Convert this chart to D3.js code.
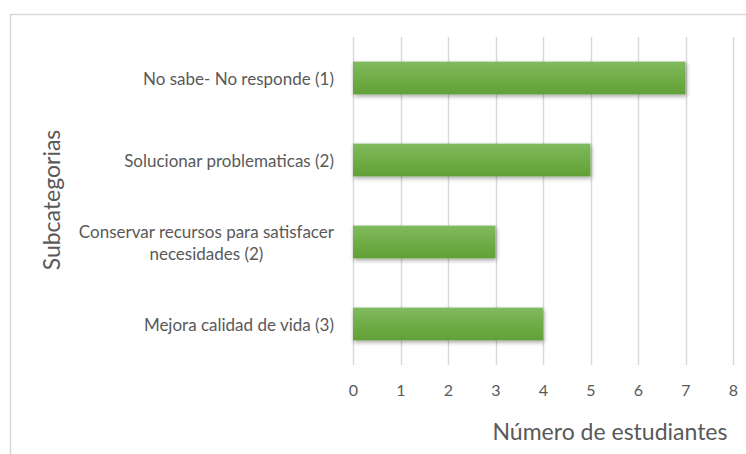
<!DOCTYPE html>
<html>
<head>
<meta charset="utf-8">
<script src="https://cdn.jsdelivr.net/npm/d3@7"></script>
<style>
  body { margin: 0; background: #fff; }
  text { font-family: Lato, "Open Sans", sans-serif; fill: #595959; }
</style>
</head>
<body>
<div id="chart"></div>
<script>
// data
const categories = [
    "No sabe- No responde (1)",
    "Solucionar problematicas (2)",
    "Conservar recursos para satisfacer|necesidades (2)",
    "Mejora calidad de vida (3)"
];
const values = [7, 5, 3, 4];
const xTicks = [0, 1, 2, 3, 4, 5, 6, 7, 8];

const width = 746, height = 454;
const margin = {left: 353, right: 13, top: 37, bottom: 89};

const svg = d3.select("#chart")
    .append("svg")
    .attr("width", width)
    .attr("height", height);

// gradient + shadow for bars
const defs = svg.append("defs");
const grad = defs.append("linearGradient")
    .attr("id", "barGrad")
    .attr("x1", 0).attr("y1", 0).attr("x2", 0).attr("y2", 1);
grad.append("stop").attr("offset", "0%").attr("stop-color", "#81ba60");
grad.append("stop").attr("offset", "50%").attr("stop-color", "#70ad47");
grad.append("stop").attr("offset", "100%").attr("stop-color", "#62a037");

const shadow = defs.append("filter")
    .attr("id", "shadow")
    .attr("x", "-10%").attr("y", "-20%").attr("width", "130%").attr("height", "160%");
shadow.append("feDropShadow")
    .attr("dx", 1).attr("dy", 2).attr("stdDeviation", 2)
    .attr("flood-color", "#000").attr("flood-opacity", 0.35);

// outer frame
svg.append("rect")
    .attr("x", 10.5).attr("y", 14.5)
    .attr("width", 760).attr("height", 460)
    .attr("fill", "none")
    .attr("stroke", "#d9d9d9")
    .attr("stroke-width", 1.5);

const x = d3.scaleLinear()
    .domain([0, 8])
    .range([margin.left, width - margin.right]);

const y = d3.scaleBand()
    .domain(categories)
    .range([margin.top, height - margin.bottom])
    .paddingInner(0.6)
    .paddingOuter(0.3);

// gridlines + ticks
svg.append("g")
    .selectAll("line")
    .data(xTicks)
    .enter()
    .append("line")
    .attr("x1", d => Math.round(x(d)) + 0.5)
    .attr("x2", d => Math.round(x(d)) + 0.5)
    .attr("y1", margin.top)
    .attr("y2", height - margin.bottom)
    .attr("stroke", "#d9d9d9")
    .attr("stroke-width", 1.5);

// x axis labels
const xAxis = svg.append("g")
    .attr("transform", `translate(0,${height - margin.bottom})`)
    .call(d3.axisBottom(x).tickValues(xTicks).tickSize(0).tickPadding(20));
xAxis.select(".domain").remove();
xAxis.selectAll("text")
    .style("font-size", "16px")
    .style("font-family", "Lato, 'Open Sans', sans-serif")
    .attr("fill", "#595959");

// bars
svg.append("g")
    .selectAll("rect")
    .data(values)
    .enter()
    .append("rect")
    .attr("x", x(0))
    .attr("y", (d, i) => y(categories[i]))
    .attr("width", d => x(d) - x(0))
    .attr("height", y.bandwidth())
    .attr("fill", "url(#barGrad)")
    .attr("filter", "url(#shadow)");

// category labels (wrapped on "|", centered per line like Excel)
const labels = svg.append("g")
    .selectAll("text")
    .data(categories)
    .enter()
    .append("text")
    .attr("font-size", "17px")
    .attr("text-anchor", "end")
    .attr("dominant-baseline", "central")
    .attr("y", d => y(d) + y.bandwidth() / 2);

labels.each(function(d) {
    const lines = d.split("|");
    const t = d3.select(this);
    if (lines.length === 1) {
        t.attr("x", 334).text(d);
    } else {
        t.attr("text-anchor", "middle");
        const tmp = t.append("tspan").text(lines[0]);
        const w = tmp.node().getComputedTextLength();
        tmp.remove();
        const cx = 334 - w / 2;
        lines.forEach((line, k) => {
            t.append("tspan")
                .attr("x", cx)
                .attr("y", y(d) + y.bandwidth() / 2 + (k - (lines.length - 1) / 2) * 22)
                .text(line);
        });
    }
});

// axis titles
svg.append("text")
    .attr("x", 610)
    .attr("y", 431)
    .attr("text-anchor", "middle")
    .attr("dominant-baseline", "central")
    .attr("font-size", "23px")
    .text("Número de estudiantes");

svg.append("text")
    .attr("transform", `translate(51,200) rotate(-90)`)
    .attr("text-anchor", "middle")
    .attr("dominant-baseline", "central")
    .attr("font-size", "23px")
    .text("Subcategorias");
</script>
</body>
</html>
